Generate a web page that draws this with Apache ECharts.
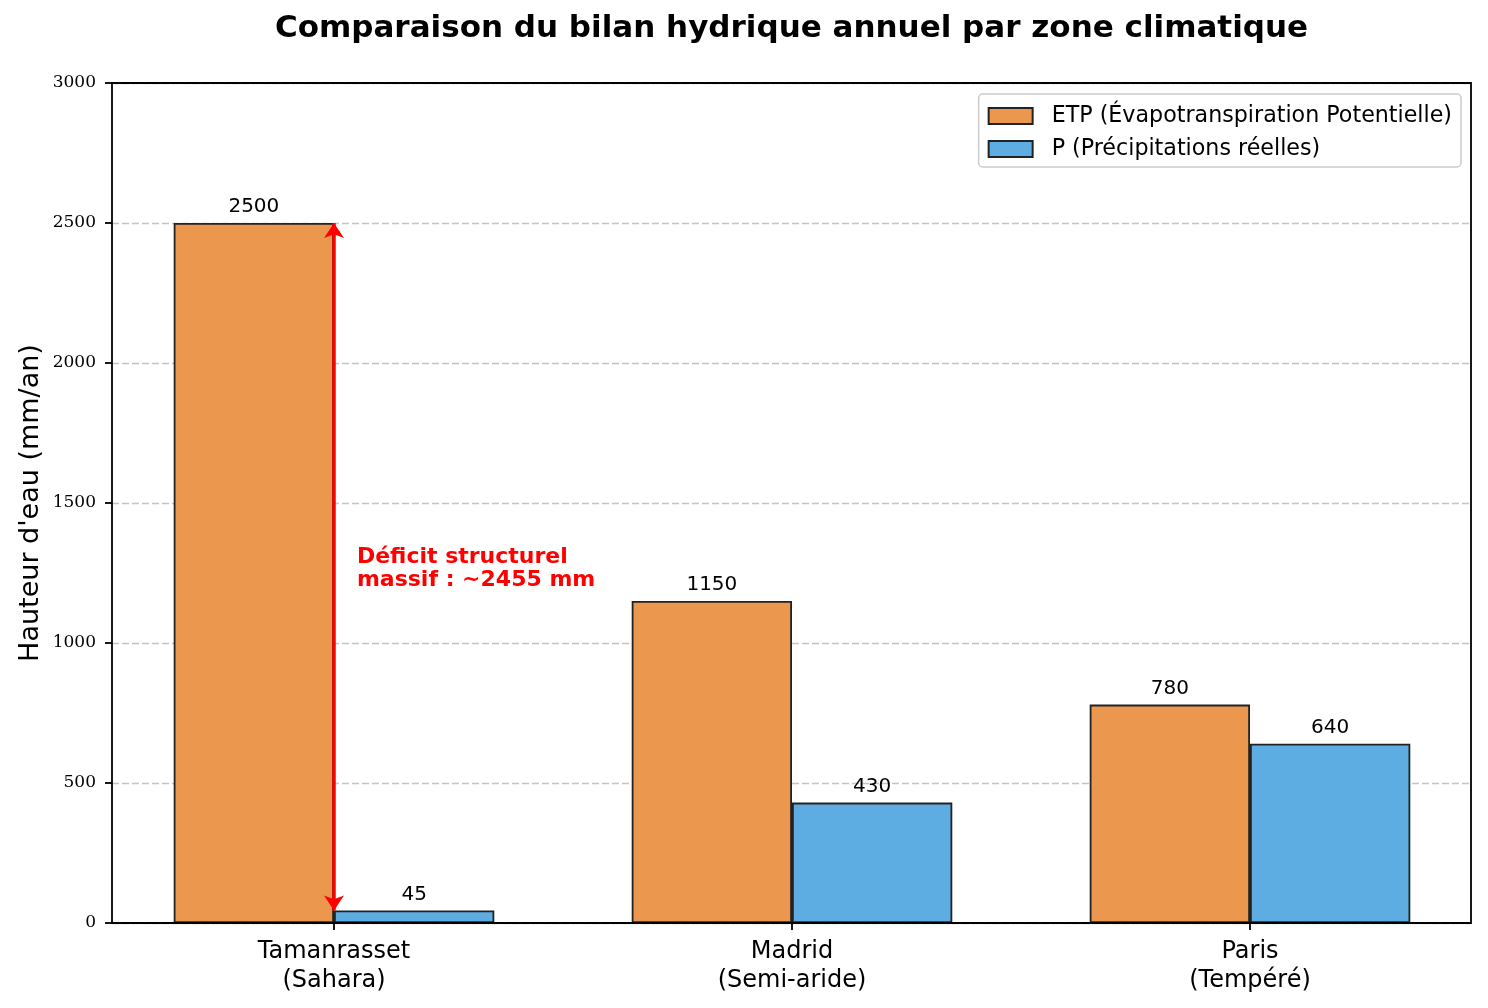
<!DOCTYPE html>
<html><head><meta charset="utf-8">
<script src="https://cdn.jsdelivr.net/npm/echarts/dist/echarts.min.js"></script>
<style>html,body{margin:0;padding:0;background:#fff}#c{width:1488px;height:1008px}</style>
</head><body><div id="c"></div>
<script>
// ---- data ----
const categories = ['Tamanrasset\n(Sahara)', 'Madrid\n(Semi-aride)', 'Paris\n(Tempéré)'];
const seriesNames = ['ETP (Évapotranspiration Potentielle)', 'P (Précipitations réelles)'];
const etpValues = [2500, 1150, 780];
const pValues = [45, 430, 640];
const yMin = 0, yMax = 3000, yStep = 500;
const deficitArrow = [45, 2500];          // arrow from P to ETP at Tamanrasset
const deficitText = 'Déficit structurel\nmassif : ~2455 mm';
const deficitTextPos = [0.05, 1200];      // category offset, value
const titleText = 'Comparaison du bilan hydrique annuel par zone climatique';
const yName = "Hauteur d'eau (mm/an)";

const chart = echarts.init(document.getElementById('c'), null, {renderer: 'canvas'});
const sans = 'DejaVu Sans';
const barBorder = {borderColor: '#222', borderWidth: 1.8};

chart.setOption({
  animation: false,
  backgroundColor: '#fff',
  grid: [
    {left: 105, right: 9, top: 83, bottom: 85, containLabel: false, outerBoundsMode: 'none'},
    {left: 112, right: 17, top: 83, bottom: 85, containLabel: false, outerBoundsMode: 'none',
     show: true, borderColor: '#000', borderWidth: 1.8, backgroundColor: 'transparent', z: 5}
  ],
  xAxis: [
    {type: 'category', gridIndex: 0, data: categories, boundaryGap: true,
     axisLine: {show: false},
     axisTick: {show: true, alignWithLabel: true, length: 7, lineStyle: {color: '#000', width: 1.8}},
     axisLabel: {show: true, interval: 0, margin: 14, fontFamily: sans, fontSize: 24, lineHeight: 29, color: '#000'},
     splitLine: {show: false}},
    {type: 'value', gridIndex: 1, show: false, min: 0, max: 1}
  ],
  yAxis: [
    {type: 'value', gridIndex: 0, min: yMin, max: yMax, interval: yStep, show: false, splitLine: {show: false}},
    {type: 'value', gridIndex: 1, min: yMin, max: yMax, interval: yStep,
     axisLine: {show: false},
     axisTick: {show: true, length: 7, lineStyle: {color: '#000', width: 1.8}},
     axisLabel: {show: true, margin: 16, fontFamily: 'DejaVu Serif', fontSize: 17, color: '#000',
                 formatter: v => String(v)},
     splitLine: {show: true, lineStyle: {color: '#c4c4c4', width: 1.3, type: [7, 3]}}}
  ],
  legend: {
    show: true, orient: 'vertical', right: 27, top: 94,
    padding: [11, 9, 7, 9], itemWidth: 44, itemHeight: 16, itemGap: 11,
    icon: 'rect',
    backgroundColor: 'rgba(255,255,255,0.8)', borderColor: '#cccccc', borderWidth: 1.5, borderRadius: 4,
    textStyle: {fontFamily: sans, fontSize: 22.2, lineHeight: 22, color: '#000', padding: [0, 0, 0, 14]},
    data: seriesNames
  },
  series: [
    {name: seriesNames[0], type: 'bar', xAxisIndex: 0, yAxisIndex: 0, data: etpValues,
     barWidth: '35%', barGap: '0%',
     itemStyle: Object.assign({color: '#EB984E'}, barBorder),
     label: {show: true, position: 'top', distance: 6, fontFamily: sans, fontSize: 20, color: '#000'}},
    {name: seriesNames[1], type: 'bar', xAxisIndex: 0, yAxisIndex: 0, data: pValues,
     barWidth: '35%', barGap: '0%',
     itemStyle: Object.assign({color: '#5DADE2'}, barBorder),
     label: {show: true, position: 'top', distance: 6, fontFamily: sans, fontSize: 20, color: '#000'}},
    {name: 'deficit', type: 'line', xAxisIndex: 0, yAxisIndex: 0, data: [], z: 6,
     markLine: {
       silent: true, z: 6, symbol: ['arrow', 'arrow'], symbolSize: [15, 15],
       label: {show: false},
       lineStyle: {color: '#ff0000', width: 3.5, type: 'solid', opacity: 1},
       data: [[{coord: [0, deficitArrow[0]]}, {coord: [0, deficitArrow[1]]}]]
     }}
  ]
});

// annotation placed through the axes' own scale
const p0 = chart.convertToPixel({xAxisIndex: 0, yAxisIndex: 0}, [0, deficitTextPos[1]]);
const p1 = chart.convertToPixel({xAxisIndex: 0, yAxisIndex: 0}, [1, deficitTextPos[1]]);
const tx = p0[0] + (p1[0] - p0[0]) * deficitTextPos[0];
const gridRect = chart.getModel().getComponent('grid', 1).coordinateSystem.getRect();

chart.setOption({
  graphic: [
    {type: 'text', x: (gridRect.x + gridRect.x + gridRect.width) / 2, y: 29,
     style: {text: titleText, font: 'bold 31px "DejaVu Sans"', fill: '#000', textAlign: 'center', textVerticalAlign: 'middle'}},
    {type: 'text', x: 31, y: gridRect.y + gridRect.height / 2, rotation: Math.PI / 2,
     style: {text: yName, font: '27px "DejaVu Sans"', fill: '#000', textAlign: 'center', textVerticalAlign: 'middle'}},
    {type: 'text', x: tx, y: p0[1] + 5, z: 10,
     style: {text: deficitText, font: 'bold 22px "DejaVu Sans"', lineHeight: 23, fill: '#ff0000', textAlign: 'left', textVerticalAlign: 'bottom'}}
  ]
});
</script>
</body></html>
